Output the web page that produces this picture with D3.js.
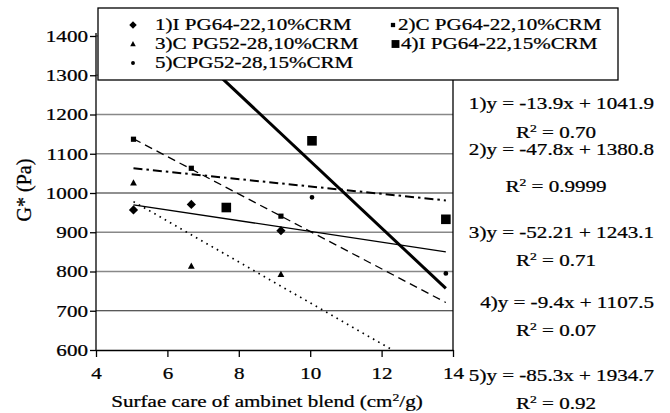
<!DOCTYPE html>
<html>
<head>
<meta charset="utf-8">
<script src="https://cdn.jsdelivr.net/npm/d3@7"></script>
<style>
  body { margin: 0; background: #fff; }
  svg text { font-family: "Liberation Serif", "DejaVu Serif", serif; stroke: #000; stroke-width: 0.25px; }
</style>
</head>
<body>
<svg width="670" height="413"></svg>
<script>
// series names (legend order)
var seriesNames = ['1)I PG64-22,10%CRM', '2)C PG64-22,10%CRM', '3)C PG52-28,10%CRM', '4)I PG64-22,15%CRM', '5)CPG52-28,15%CRM'];

// measured points
var s1X = [5.05, 6.67, 9.18], s1Y = [957, 971, 904];
var s2X = [5.05, 6.67, 9.18], s2Y = [1137, 1063, 941];
var s3X = [5.05, 6.67, 9.18], s3Y = [1026, 814, 793];
var s4X = [7.65, 10.05, 13.8], s4Y = [963, 1133, 933];
var s5X = [10.05, 13.8], s5Y = [989, 795];

// trend lines, start / end values
var trendX = [5.05, 13.8];
var t1Y = [970, 850];
var t2Y = [1138, 721];
var t3Y = [978, 522];
var t4Y = [1063, 981];
var t5Y = [1504, 757];

// equations shown at right
var eqText = ['1)y = -13.9x + 1041.9', '2)y = -47.8x + 1380.8', '3)y = -52.21 + 1243.1', '4)y = -9.4x + 1107.5', '5)y = -85.3x + 1934.7'];
var r2Text = ['0.70', '0.9999', '0.71', '0.07', '0.92'];

var xTicks = [4, 6, 8, 10, 12, 14];
var yTicks = [600, 700, 800, 900, 1000, 1100, 1200, 1300, 1400];

var svg = d3.select('svg');
var SX = 1.24;   // text in the picture is drawn wide
var FS = 17;

var x = d3.scaleLinear().domain([4, 14]).range([96, 453]);
var y = d3.scaleLinear().domain([600, 1400]).range([350, 36]);

function wideText(parent, tx, ty, str, anchor) {
  return parent.append('text')
    .attr('transform', 'translate(' + tx + ',' + ty + ') scale(' + SX + ',1)')
    .attr('text-anchor', anchor || 'start')
    .style('font-size', FS + 'px')
    .text(str);
}

// marker path
function marker(kind, cx, cy, k) {
  k = k || 1;
  if (kind === 'diamond') {
    var r = 4.6 * k;
    return 'M' + cx + ',' + (cy - r) + 'L' + (cx + r) + ',' + cy + 'L' + cx + ',' + (cy + r) + 'L' + (cx - r) + ',' + cy + 'Z';
  }
  if (kind === 'small') {
    var s = 2.6 * k;
    return 'M' + (cx - s) + ',' + (cy - s) + 'h' + 2 * s + 'v' + 2 * s + 'h' + (-2 * s) + 'Z';
  }
  if (kind === 'big') {
    var b = 4.8 * k;
    return 'M' + (cx - b) + ',' + (cy - b) + 'h' + 2 * b + 'v' + 2 * b + 'h' + (-2 * b) + 'Z';
  }
  if (kind === 'tri') {
    return 'M' + cx + ',' + (cy - 3.6 * k) + 'L' + (cx + 3.4 * k) + ',' + (cy + 2.8 * k) + 'L' + (cx - 3.4 * k) + ',' + (cy + 2.8 * k) + 'Z';
  }
  // circle
  var c = 2.4 * k;
  return 'M' + (cx - c) + ',' + cy + 'a' + c + ',' + c + ' 0 1,0 ' + 2 * c + ',0a' + c + ',' + c + ' 0 1,0 ' + (-2 * c) + ',0Z';
}

// gridlines
svg.append('g').selectAll('line')
  .data(yTicks.slice(1))
  .enter()
  .append('line')
  .attr('x1', x(4)).attr('x2', x(14))
  .attr('y1', function(d) { return y(d); })
  .attr('y2', function(d) { return y(d); })
  .attr('stroke', function(d) { return (d === 700 || d === 1000) ? '#222' : '#888'; })
  .attr('stroke-width', function(d) { return (d === 700 || d === 1000) ? 1.1 : 1.6; });

// right border of plot area
svg.append('line')
  .attr('x1', x(14)).attr('x2', x(14))
  .attr('y1', y(1400)).attr('y2', y(600))
  .attr('stroke', '#000').attr('stroke-width', 1.3);

// axes
var yAxis = svg.append('g')
  .attr('transform', 'translate(' + x(4) + ',0)')
  .call(d3.axisLeft(y).tickValues(yTicks).tickFormat(d3.format('d'))
    .tickSize(6).tickSizeOuter(0).tickPadding(0.5));
var xAxis = svg.append('g')
  .attr('transform', 'translate(0,' + y(600) + ')')
  .call(d3.axisBottom(x).tickValues(xTicks).tickFormat(d3.format('d'))
    .tickSize(7).tickSizeOuter(0).tickPadding(10));

[yAxis, xAxis].forEach(function(ax) {
  ax.attr('font-family', null);
  ax.selectAll('path, line').attr('stroke', '#000').attr('stroke-width', 1.3);
  ax.selectAll('text')
    .attr('fill', '#000')
    .style('font-size', FS + 'px')
    .attr('transform', 'scale(' + SX + ',1)');
});
yAxis.select('.domain').attr('d', 'M0,' + (y(1400) - 3) + 'V' + y(600));

// trend lines
svg.append('clipPath').attr('id', 'plotClip')
  .append('rect')
  .attr('x', x(4)).attr('y', y(1400) - 3)
  .attr('width', x(14) - x(4)).attr('height', y(600) - y(1400) + 3);

var trends = [
  {vals: t1Y, w: 1.3, dash: null},
  {vals: t2Y, w: 1.3, dash: '8,5'},
  {vals: t3Y, w: 1.7, dash: '1.6,4.4'},
  {vals: t4Y, w: 2, dash: '9,4,2.5,4'},
  {vals: t5Y, w: 3, dash: null}
];
var line = d3.line()
  .x(function(d, i) { return x(trendX[i]); })
  .y(function(d) { return y(d); });

svg.append('g').attr('clip-path', 'url(#plotClip)')
  .selectAll('path')
  .data(trends)
  .enter()
  .append('path')
  .attr('d', function(d) { return line(d.vals); })
  .attr('fill', 'none')
  .attr('stroke', '#000')
  .attr('stroke-width', function(d) { return d.w; })
  .attr('stroke-dasharray', function(d) { return d.dash; });

// points
var kinds = ['diamond', 'small', 'tri', 'big', 'circle'];
var pointSets = [
  {xs: s1X, ys: s1Y},
  {xs: s2X, ys: s2Y},
  {xs: s3X, ys: s3Y},
  {xs: s4X, ys: s4Y},
  {xs: s5X, ys: s5Y}
];
pointSets.forEach(function(ps, k) {
  svg.append('g').selectAll('path')
    .data(ps.xs)
    .enter()
    .append('path')
    .attr('d', function(d, i) { return marker(kinds[k], x(d), y(ps.ys[i])); })
    .attr('fill', '#000');
});

// legend
var legend = svg.append('g');
legend.append('rect')
  .attr('x', 98).attr('y', 8)
  .attr('width', 520).attr('height', 72)
  .attr('fill', '#fff').attr('stroke', '#000').attr('stroke-width', 1.3);

var legendPos = [
  {mx: 133, my: 25, tx: 155, ty: 30},
  {mx: 393, my: 25, tx: 398, ty: 30},
  {mx: 133, my: 44, tx: 155, ty: 49},
  {mx: 395.5, my: 44, tx: 401, ty: 49},
  {mx: 133, my: 63, tx: 155, ty: 68}
];
seriesNames.forEach(function(name, i) {
  var p = legendPos[i];
  legend.append('path')
    .attr('d', marker(kinds[i], p.mx, p.my, 0.82))
    .attr('fill', '#000');
  wideText(legend, p.tx, p.ty, name);
});

// equations
var eqBase = [109, 155, 238, 308, 381];
var r2Base = [138, 192, 266, 336, 409];
eqText.forEach(function(t, i) {
  wideText(svg, 654, eqBase[i], t, 'end');
  var r = wideText(svg, 556, r2Base[i], null, 'middle');
  r.append('tspan').text('R');
  r.append('tspan').attr('dy', -6).style('font-size', '11px').text('2');
  r.append('tspan').attr('dy', 6).text(' = ' + r2Text[i]);
});

// axis titles
var xt = wideText(svg, 267, 407, null, 'middle');
xt.append('tspan').text('Surfae care of ambinet blend (cm');
xt.append('tspan').attr('dy', -6).style('font-size', '11px').text('2');
xt.append('tspan').attr('dy', 6).text('/g)');

svg.append('text')
  .attr('transform', 'translate(31,190) rotate(-90)')
  .attr('text-anchor', 'middle')
  .style('font-size', '20px')
  .text('G* (Pa)');
</script>
</body>
</html>
